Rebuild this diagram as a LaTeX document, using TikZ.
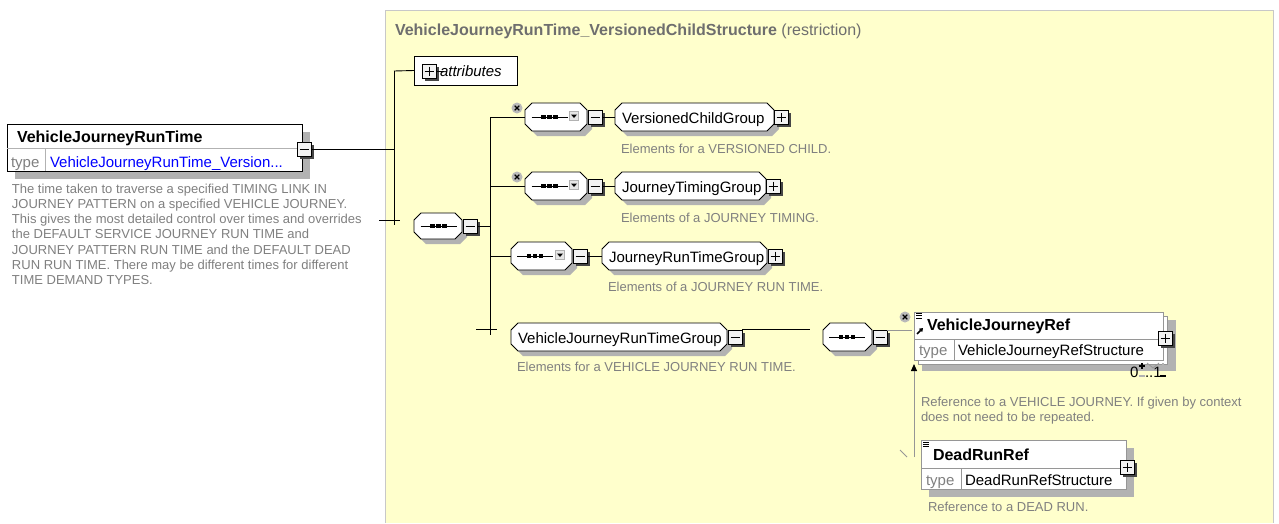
\documentclass[tikz,border=0pt]{standalone}
\usepackage{fontspec}
\setmainfont{Liberation Sans}
\usetikzlibrary{arrows.meta,calc}
\definecolor{bgy}{RGB}{255,255,204}
\definecolor{shd}{RGB}{178,178,178}
\definecolor{dg}{RGB}{128,128,128}
\definecolor{tg}{RGB}{110,110,110}
\definecolor{frm}{RGB}{200,200,200}
\definecolor{eg}{RGB}{150,150,150}
\definecolor{lnk}{RGB}{0,0,255}
\definecolor{pmshd}{RGB}{70,70,70}
\newcommand\fLab{\fontsize{15}{18}\selectfont}
\newcommand\fBold{\fontsize{16}{18}\selectfont\bfseries}
\newcommand\fDesc{\fontsize{13}{15.33}\selectfont}
\newcommand\fTitle{\fontsize{16}{18}\selectfont}
% chamfered outline with shadow: x1,y1,x2,y2,chamfer
\newcommand\octo[5]{%
  \fill[shd] (#1+#5+5,#2+5) -- (#3-#5+5,#2+5) -- (#3+5,#2+#5+5) -- (#3+5,#4-#5+5) -- (#3-#5+5,#4+5) -- (#1+#5+5,#4+5) -- (#1+5,#4-#5+5) -- (#1+5,#2+#5+5) -- cycle;
  \filldraw[fill=white, draw=black, line width=0.9pt] (#1+#5,#2) -- (#3-#5,#2) -- (#3,#2+#5) -- (#3,#4-#5) -- (#3-#5,#4) -- (#1+#5,#4) -- (#1,#4-#5) -- (#1,#2+#5) -- cycle;}
\newcommand\seqsym[2]{%
  \begin{scope}[shift={(#1,#2)}]
    \draw[line width=1pt] (-18,0) -- (18,0);
    \foreach \i in {-6,0,6} \fill (\i-2.3,-2.3) rectangle (\i+2.3,2.3);
  \end{scope}}
\newcommand\ddicon[2]{%
  \begin{scope}[shift={(#1,#2)}]
    \filldraw[fill=gray!20, draw=gray!60, line width=0.5pt] (-4.5,-4.5) rectangle (4.5,4.5);
    \fill (-3,-1.5) -- (3,-1.5) -- (0,2) -- cycle;
  \end{scope}}
\newcommand\xcirc[2]{%
  \begin{scope}[shift={(#1,#2)}]
    \fill[gray!55] (0,0) circle (5.5);
    \draw[line width=1.2pt] (-2.3,-2.3) -- (2.3,2.3) (-2.3,2.3) -- (2.3,-2.3);
  \end{scope}}
\newcommand\lines[2]{%
  \begin{scope}[shift={(#1,#2)}]
    \draw[line width=0.9pt] (0,0) -- (6,0) (0,2.3) -- (6,2.3) (0,4.6) -- (6,4.6);
  \end{scope}}
% plus/minus box with dark shadow: style, name, x, y
\newcommand\pmbx[4]{%
  \fill[pmshd] (#3-7+3,#4-7+3) rectangle (#3+7+3,#4+7+3);
  \node[#1] (#2) at (#3,#4) {};}
\begin{document}
\begin{tikzpicture}[x=1pt,y=-1pt, line width=0.8pt,
  every node/.style={inner sep=0pt, outer sep=0pt},
  pmbox/.style={rectangle, draw=black, fill=gray!10, minimum size=14pt, line width=1pt},
  minusbox/.style={pmbox, path picture={\draw[line width=1pt] ([xshift=2.5pt]path picture bounding box.west) -- ([xshift=-2.5pt]path picture bounding box.east);}},
  plusbox/.style={pmbox, path picture={\draw[line width=1pt] ([xshift=2.5pt]path picture bounding box.west) -- ([xshift=-2.5pt]path picture bounding box.east) ([yshift=-2.5pt]path picture bounding box.north) -- ([yshift=2.5pt]path picture bounding box.south);}},
  lab/.style={anchor=base west, font=\fLab},
  bname/.style={anchor=base west, font=\fBold},
  desc/.style={anchor=base west, font=\fDesc, text=dg},
  tword/.style={anchor=base west, font=\fLab, text=dg},
  slot/.style={rectangle, minimum height=28pt},
  conn/.style={draw=black, line width=0.9pt}
]
\useasboundingbox (0,0) rectangle (1279,523);
\fill[white] (0,0) rectangle (1279,523);
% yellow area
\filldraw[fill=bgy, draw=frm, line width=1pt] (385,523) -- (385,10) -- (1273,10) -- (1273,523);
\node[anchor=base west, text=tg, font=\fTitle] (title) at (395,35) {{\bfseries VehicleJourneyRunTime\_VersionedChildStructure} (restriction)};

% ---------- left element
\fill[shd] (15,132) rectangle (310,179);
\node[draw=black, fill=white, line width=0.9pt, minimum width=295pt, minimum height=47pt, anchor=north west] (vjrt) at (7,124) {};
\draw[line width=0.6pt, draw=gray!60] (7,148) -- (302,148) (45,148) -- (45,171);
\node[bname] (vjrtname) at (17,142) {VehicleJourneyRunTime};
\node[tword] (vjrttype) at (11,167) {type};
\node[lab, text=lnk] (vjrtval) at (50,167) {VehicleJourneyRunTime\_Version...};
\pmbx{minusbox}{m0}{304}{149}
\foreach \t [count=\i from 0] in {
  {The time taken to traverse a specified TIMING LINK IN},
  {JOURNEY PATTERN on a specified VEHICLE JOURNEY.},
  {This gives the most detailed control over times and overrides},
  {the DEFAULT SERVICE JOURNEY RUN TIME and},
  {JOURNEY PATTERN RUN TIME and the DEFAULT DEAD},
  {RUN RUN TIME. There may be different times for different},
  {TIME DEMAND TYPES.}}
  \node[desc] (ld\i) at (12,193+15.33*\i) {\t};

% ---------- first bar
\coordinate (j1) at (394,149);
\coordinate (b1t) at (394,71);
\coordinate (b1b) at (394,225);
\coordinate (tk1a) at (379,220);
\coordinate (tk1b) at (400,220);
\draw[conn] (m0.east) -- (j1);
\draw[conn] (b1t) -- (b1b);
\draw[conn] (tk1a) -- (tk1b);

% attributes
\node[draw=black, fill=white, line width=0.8pt, minimum width=103pt, minimum height=29pt] (attr) at (465.5,70.5) {};
\draw[conn] (b1t) -- (attr.west);
\pmbx{plusbox}{pa}{429}{71}
\coordinate (pae) at (444,71);
\draw[conn] (pa.east) -- (pae);
\node[lab, font=\fLab\itshape] (attrtxt) at (440,76) {attributes};

% ---------- main sequence compositor
\octo{414}{213}{462}{239}{7}
\node[slot, minimum width=48pt] (c0) at (438,226) {};
\seqsym{438.5}{226}
\pmbx{minusbox}{mc0}{470}{226}
\coordinate (b2m) at (490,226);
\coordinate (b2t) at (490,117);
\coordinate (b2a) at (490,186);
\coordinate (b2c) at (490,256);
\coordinate (b2b) at (490,335);
\coordinate (tk2a) at (476,329);
\coordinate (tk2b) at (497,329);
\draw[conn] (mc0.east) -- (b2m);
\draw[conn] (b2t) -- (b2b);
\draw[conn] (tk2a) -- (tk2b);

% ---------- branch 1
\octo{525}{103}{587}{131}{7}
\node[slot, minimum width=62pt] (c1) at (556,117) {};
\seqsym{549.5}{117}
\ddicon{574}{116}
\xcirc{517}{108}
\pmbx{minusbox}{mc1}{595}{117}
\octo{615}{103}{774}{131}{7}
\node[slot, minimum width=159pt] (g1) at (694.5,117) {};
\node[lab] (g1t) at (622,123) {VersionedChildGroup};
\pmbx{plusbox}{pg1}{781}{117}
\draw[conn] (b2t) -- (c1.west);
\draw[conn] (mc1.east) -- (g1.west);
\node[desc] (d1) at (621,153) {Elements for a VERSIONED CHILD.};

% ---------- branch 2
\octo{525}{172}{587}{200}{7}
\node[slot, minimum width=62pt] (c2) at (556,186) {};
\seqsym{549.5}{186}
\ddicon{574}{185}
\xcirc{517}{177}
\pmbx{minusbox}{mc2}{595}{186}
\octo{615}{172}{766}{200}{7}
\node[slot, minimum width=151pt] (g2) at (690.5,186) {};
\node[lab] (g2t) at (622,192) {JourneyTimingGroup};
\pmbx{plusbox}{pg2}{773}{186}
\draw[conn] (b2a) -- (c2.west);
\draw[conn] (mc2.east) -- (g2.west);
\node[desc] (d2) at (621,222) {Elements of a JOURNEY TIMING.};

% ---------- branch 3
\octo{511}{242}{572}{270}{7}
\node[slot, minimum width=61pt] (c3) at (541.5,256) {};
\seqsym{535}{256}
\ddicon{560}{255}
\pmbx{minusbox}{mc3}{580}{256}
\octo{602}{242}{767}{270}{7}
\node[slot, minimum width=165pt] (g3) at (684.5,256) {};
\node[lab] (g3t) at (609,262) {JourneyRunTimeGroup};
\pmbx{plusbox}{pg3}{775}{256}
\draw[conn] (b2c) -- (c3.west);
\draw[conn] (mc3.east) -- (g3.west);
\node[desc] (d3) at (608,291) {Elements of a JOURNEY RUN TIME.};

% ---------- branch 4
\octo{511}{323}{727}{351}{7}
\node[slot, minimum width=216pt] (g4) at (619,337) {};
\node[lab] (g4t) at (518,343) {VehicleJourneyRunTimeGroup};
\pmbx{minusbox}{mg4}{735}{337}
\node[desc] (d4) at (517,371) {Elements for a VEHICLE JOURNEY RUN TIME.};
\coordinate (l4a) at (742,329);
\coordinate (l4b) at (810,329);
\draw[conn] (l4a) -- (l4b);

% sequence of refs
\octo{823}{323}{872}{351}{7}
\node[slot, minimum width=49pt] (c4) at (847.5,337) {};
\seqsym{847}{337}
\pmbx{minusbox}{mc4}{880}{337}
\coordinate (l5b) at (912,330);
\draw[eg, line width=0.9pt] (mc4.east |- l5b) -- (l5b);

% ---------- VehicleJourneyRef
\fill[shd] (922,320) rectangle (1176,371);
\draw[eg, fill=white, line width=0.8pt] (918,316) rectangle (1167,364);
\node[draw=eg, fill=white, line width=0.8pt, minimum width=249pt, minimum height=48pt, anchor=north west] (vjref) at (914,312) {};
\draw[eg, line width=0.6pt] (914,339) -- (1163,339) (954,339) -- (954,360);
\draw[eg, line width=0.8pt] (1147,363) -- (1153,368) -- (1159,363);
\xcirc{905}{317}
\lines{916}{313.5}
\draw[line width=1.6pt, -{Triangle[length=3.5pt,width=4.5pt]}] (917,334) -- (923,328);
\node[bname] (vjrefname) at (927,330) {VehicleJourneyRef};
\node[tword] (vjreftype) at (919,355) {type};
\node[lab] (vjrefval) at (958,355) {VehicleJourneyRefStructure};
\pmbx{plusbox}{pvj}{1165}{338}
% multiplicity
\node[anchor=base west, font=\fontsize{15}{18}\selectfont] (mult0) at (1130,377) {0};
\draw[line width=1.1pt] (1139,366) -- (1145,366) (1142,363) -- (1142,369);
\draw[gray!60, line width=1.1pt] (1139,376) -- (1145,376);
\node[anchor=base west, font=\fontsize{15}{18}\selectfont] (mult1) at (1145,377) {..1};
\draw[gray!60, line width=1.1pt] (1160,366) -- (1166,366) (1163,363) -- (1163,369);
\draw[line width=1.1pt] (1160,376) -- (1166,376);
\node[desc] (d5a) at (921,406) {Reference to a VEHICLE JOURNEY. If given by context};
\node[desc] (d5b) at (921,421) {does not need to be repeated.};

% ---------- DeadRunRef
\fill[shd] (929,448) rectangle (1134,497);
\node[draw=eg, fill=white, line width=0.8pt, minimum width=205pt, minimum height=49pt, anchor=north west] (drr) at (921,440) {};
\draw[eg, line width=0.6pt] (921,468) -- (1126,468) (961,468) -- (961,489);
\lines{923}{442}
\node[bname] (drrname) at (933,460) {DeadRunRef};
\node[tword] (drrtype) at (926,485) {type};
\node[lab] (drrval) at (965,485) {DeadRunRefStructure};
\pmbx{plusbox}{pdr}{1127}{467}
\node[desc] (d6) at (928,511) {Reference to a DEAD RUN.};

% substitution arrow
\coordinate (arr0) at (914,457);
\draw[eg, line width=0.9pt, -{Triangle[length=7pt,width=6pt,color=black]}] (arr0) -- ($(vjref.south west)+(0,4)$);
\coordinate (dg1) at (900,450);
\coordinate (dg2) at (907,457);
\draw[eg, line width=0.8pt] (dg1) -- (dg2);
\end{tikzpicture}
\end{document}
